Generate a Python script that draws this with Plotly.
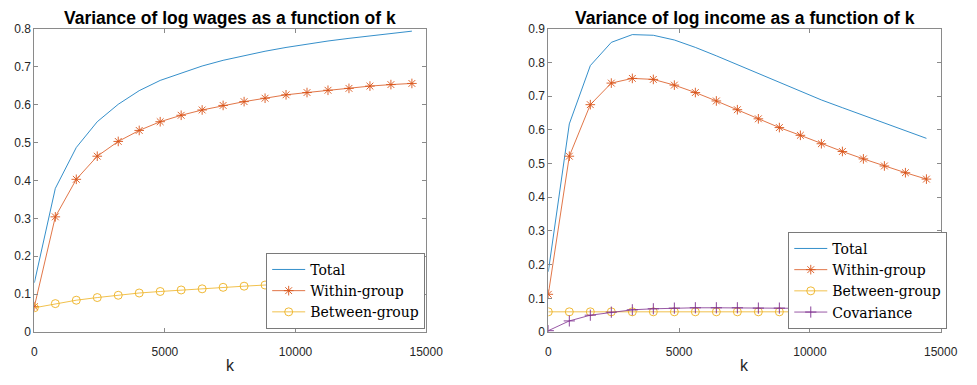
import plotly.graph_objects as go

# ---------------- data ----------------
k = [0, 803, 1606, 2409, 3212, 4015, 4818, 5621, 6424, 7227,
     8030, 8833, 9636, 10439, 11242, 12045, 12848, 13651, 14454]

wage_total = [0.130, 0.379, 0.487, 0.555, 0.601, 0.637, 0.664, 0.684, 0.702, 0.717,
              0.730, 0.741, 0.751, 0.760, 0.768, 0.775, 0.782, 0.788, 0.794]
wage_within = [0.067, 0.304, 0.403, 0.464, 0.503, 0.532, 0.555, 0.572, 0.586, 0.598,
               0.608, 0.617, 0.626, 0.632, 0.638, 0.643, 0.649, 0.653, 0.656]
wage_between = [0.064, 0.075, 0.084, 0.091, 0.097, 0.103, 0.107, 0.111, 0.114, 0.118,
                0.121, 0.124, 0.126, 0.128, 0.130, 0.132, 0.134, 0.136, 0.138]

inc_total = [0.179, 0.618, 0.791, 0.860, 0.883, 0.881, 0.867, 0.845, 0.820, 0.794,
             0.766, 0.740, 0.714, 0.689, 0.666, 0.643, 0.620, 0.598, 0.575]
inc_within = [0.112, 0.522, 0.675, 0.739, 0.753, 0.750, 0.733, 0.711, 0.686, 0.660,
              0.633, 0.607, 0.584, 0.559, 0.536, 0.514, 0.493, 0.473, 0.454]
inc_between = [0.060, 0.060, 0.060, 0.060, 0.060, 0.060, 0.060, 0.060, 0.060, 0.060,
               0.060, 0.060, 0.060, 0.060, 0.060, 0.060, 0.060, 0.060, 0.060]
inc_cov = [0.004, 0.033, 0.050, 0.059, 0.066, 0.069, 0.071, 0.072, 0.072, 0.072,
           0.071, 0.071, 0.071, 0.070, 0.069, 0.068, 0.066, 0.064, 0.062]

x_ticks = [0, 5000, 10000, 15000]
x_ticklabels = ["0", "5000", "10000", "15000"]
y1_ticks = [0, 0.1, 0.2, 0.3, 0.4, 0.5, 0.6, 0.7, 0.8]
y1_ticklabels = ["0", "0.1", "0.2", "0.3", "0.4", "0.5", "0.6", "0.7", "0.8"]
y2_ticks = [0, 0.1, 0.2, 0.3, 0.4, 0.5, 0.6, 0.7, 0.8, 0.9]
y2_ticklabels = ["0", "0.1", "0.2", "0.3", "0.4", "0.5", "0.6", "0.7", "0.8", "0.9"]

titles = ["Variance of log wages as a function of k", "Variance of log income as a function of k"]
names = ["Total", "Within-group", "Between-group", "Covariance"]

# ---------------- style ----------------
C_BLUE = "#0072BD"
C_RED = "#D95319"
C_YEL = "#EDB120"
C_PUR = "#7E2F8E"
LW = 0.8

W, H = 977, 385
fig = go.Figure()


def add(x, y, name, color, symbol, xa, ya, legend):
    mk = None
    mode = "lines"
    if symbol is not None:
        mode = "lines+markers"
        mk = dict(symbol=symbol, size=8, color=color, line=dict(width=0.9, color=color))
    fig.add_trace(go.Scatter(x=x, y=y, name=name, mode=mode,
                             line=dict(color=color, width=LW), marker=mk,
                             xaxis=xa, yaxis=ya, legend=legend))


add(k, wage_total, names[0], C_BLUE, None, "x", "y", "legend")
add(k, wage_within, names[1], C_RED, "asterisk-open", "x", "y", "legend")
add(k, wage_between, names[2], C_YEL, "circle-open", "x", "y", "legend")

add(k, inc_total, names[0], C_BLUE, None, "x2", "y2", "legend2")
add(k, inc_within, names[1], C_RED, "asterisk-open", "x2", "y2", "legend2")
add(k, inc_between, names[2], C_YEL, "circle-open", "x2", "y2", "legend2")
add(k, inc_cov, names[3], C_PUR, "cross-thin-open", "x2", "y2", "legend2")

ax_common = dict(showline=True, linecolor="#8a8a8a", linewidth=1, mirror="ticks",
                 ticks="inside", ticklen=4, tickcolor="#8a8a8a", showgrid=False,
                 zeroline=False, tickfont=dict(family="Liberation Sans, Arial", size=12, color="#262626"))

L0, L1 = 32 / W, 432 / W
R0, R1 = 556.7 / W, 957.3 / W
B0, B1 = (H - 337.3) / H, (H - 22.7) / H

leg_common = dict(bgcolor="white", bordercolor="#7a7a7a", borderwidth=1,
                  font=dict(family="DejaVu Serif", size=14, color="#000000"),
                  itemwidth=33, tracegroupgap=0, xanchor="right", yanchor="bottom",
                  xref="paper", yref="paper")

fig.update_layout(
    width=W, height=H, margin=dict(l=0, r=0, t=0, b=0),
    paper_bgcolor="white", plot_bgcolor="white",
    showlegend=True,
    xaxis=dict(domain=[L0, L1], range=[0, 15000], tickvals=x_ticks, ticktext=x_ticklabels,
               anchor="y", ticklabelstandoff=9, **ax_common),
    yaxis=dict(domain=[B0, B1], range=[0, 0.8], tickvals=y1_ticks, ticktext=y1_ticklabels,
               anchor="x", **ax_common),
    xaxis2=dict(domain=[R0, R1], range=[0, 15000], tickvals=x_ticks, ticktext=x_ticklabels,
                anchor="y2", ticklabelstandoff=9, **ax_common),
    yaxis2=dict(domain=[B0, B1], range=[0, 0.9], tickvals=y2_ticks, ticktext=y2_ticklabels,
                anchor="x2", **ax_common),
    legend=dict(x=431 / W, y=(H - 334) / H, **leg_common),
    legend2=dict(x=964 / W, y=(H - 334) / H, **leg_common),
)

title_font = dict(family="Liberation Sans, Arial", size=17.5, color="#000000")
label_font = dict(family="Liberation Sans, Arial", size=16, color="#262626")
for i, (a, b) in enumerate([(L0, L1), (R0, R1)]):
    fig.add_annotation(text="<b>" + titles[i] + "</b>", x=(a + b) / 2, y=(H - 11) / H,
                       xref="paper", yref="paper", xanchor="center", yanchor="middle",
                       showarrow=False, font=title_font)
    fig.add_annotation(text="k", x=(a + b) / 2, y=(H - 372) / H,
                       xref="paper", yref="paper", xanchor="center", yanchor="middle",
                       showarrow=False, font=label_font)

fig.write_html("out.html")
